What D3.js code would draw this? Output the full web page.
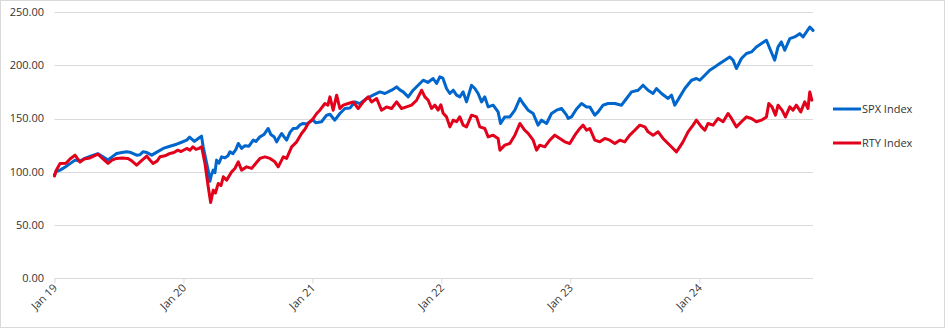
<!DOCTYPE html>
<html>
<head>
<meta charset="utf-8">
<script src="https://cdn.jsdelivr.net/npm/d3@7"></script>
<style>
html,body{margin:0;padding:0;background:#fff;}
svg{display:block;font-family:"Open Sans","Liberation Sans",sans-serif;}
</style>
</head>
<body>
<svg id="chart" width="945" height="328"></svg>
<script>
// years since Jan 2019
const spxTime = [0.000,0.012,0.043,0.089,0.159,0.198,0.244,0.291,0.337,0.376,0.415,0.446,0.482,0.523,0.560,0.593,0.637,0.663,0.686,0.717,0.754,0.787,0.843,0.895,0.947,0.981,1.025,1.047,1.085,1.112,1.140,1.153,1.180,1.194,1.205,1.217,1.231,1.244,1.257,1.275,1.296,1.322,1.345,1.360,1.384,1.407,1.425,1.451,1.477,1.508,1.541,1.562,1.593,1.624,1.657,1.678,1.702,1.723,1.740,1.761,1.779,1.800,1.826,1.851,1.880,1.903,1.929,1.957,1.981,2.006,2.027,2.071,2.110,2.136,2.174,2.213,2.252,2.291,2.330,2.368,2.420,2.471,2.523,2.562,2.614,2.653,2.678,2.704,2.743,2.781,2.820,2.859,2.895,2.936,2.963,2.988,3.012,3.040,3.066,3.092,3.118,3.143,3.169,3.195,3.234,3.260,3.285,3.312,3.337,3.363,3.402,3.440,3.459,3.492,3.531,3.570,3.609,3.634,3.673,3.712,3.750,3.777,3.816,3.854,3.893,3.932,3.971,3.983,4.009,4.048,4.087,4.126,4.151,4.190,4.216,4.254,4.293,4.345,4.397,4.436,4.475,4.526,4.564,4.603,4.642,4.668,4.707,4.758,4.785,4.810,4.849,4.888,4.940,4.978,5.004,5.043,5.081,5.120,5.159,5.198,5.236,5.262,5.288,5.327,5.366,5.405,5.443,5.482,5.521,5.547,5.585,5.611,5.637,5.663,5.702,5.740,5.779,5.805,5.831,5.857,5.882];
const spxValues = [97,100,101.5,105,110.9,110,113,115,117,114,111,114,117.2,118,118.7,118,115.6,116,118.7,118,115.6,118,121.9,124,125.9,127.5,129.7,132.5,128.5,131,133.5,123.4,107.8,100,91,97,101.5,99,110.9,108,114,113,115,118.7,117,121,126.6,121.9,124.5,124,129.7,128.5,132.8,135,140.7,135,133,128.1,132,136,133,129.7,137,140.7,141,144,145.4,145,147,148.5,146,147,153.2,154,148.5,154.8,159.5,160,165.7,164,168.9,172,175.1,173.6,176.7,179.8,177,175.1,170.4,176.7,181.4,186.1,184,187.7,183,189.2,188,178.3,173.6,176.7,172,170.4,175.1,165.7,181.4,178.3,173.6,165.7,170.4,161,162.6,156.3,145.4,151.6,151.6,157.9,168.9,164.2,157.9,154.8,143.8,148.5,145.4,154.8,157.9,159.5,153.2,150.1,151.6,159,164.2,161,161,153.2,156.3,162.6,164.2,164.2,162.6,168.9,175.1,176.7,181.4,176.7,173.6,178.3,173.6,168.9,172,162.6,170.4,178.3,186.1,187.7,186.1,190.8,195.5,198.6,201.8,204.9,208,205,197.1,206.5,211.2,212.7,217.4,220.6,223.7,215.9,204.9,217.4,222.1,214.3,225.2,226.8,229.9,226.8,231.5,236.2,233];

const rtyTime = [0.000,0.012,0.043,0.089,0.120,0.159,0.198,0.229,0.275,0.337,0.376,0.415,0.446,0.482,0.523,0.570,0.601,0.637,0.671,0.715,0.740,0.764,0.795,0.818,0.857,0.895,0.926,0.957,0.981,1.025,1.050,1.074,1.097,1.120,1.141,1.167,1.192,1.211,1.231,1.248,1.270,1.291,1.309,1.335,1.374,1.399,1.425,1.451,1.490,1.529,1.562,1.593,1.632,1.671,1.709,1.735,1.774,1.800,1.839,1.878,1.916,1.942,1.967,2.006,2.033,2.058,2.097,2.120,2.136,2.161,2.188,2.213,2.239,2.278,2.316,2.355,2.394,2.433,2.459,2.498,2.536,2.575,2.614,2.653,2.691,2.730,2.769,2.808,2.847,2.872,2.898,2.924,2.950,2.975,2.996,3.014,3.040,3.066,3.092,3.118,3.143,3.169,3.195,3.234,3.273,3.298,3.337,3.363,3.402,3.440,3.454,3.492,3.531,3.570,3.609,3.647,3.673,3.712,3.738,3.763,3.802,3.841,3.880,3.919,3.957,3.996,4.035,4.074,4.099,4.126,4.151,4.190,4.229,4.268,4.306,4.345,4.384,4.422,4.461,4.500,4.539,4.578,4.603,4.642,4.681,4.719,4.758,4.797,4.823,4.849,4.874,4.913,4.952,4.978,5.017,5.043,5.068,5.107,5.146,5.185,5.223,5.250,5.288,5.327,5.366,5.405,5.443,5.482,5.521,5.539,5.564,5.591,5.611,5.642,5.668,5.702,5.727,5.753,5.787,5.818,5.843,5.857,5.873];
const rtyValues = [96,101,107.8,108,112,115.6,109,112,113,116.5,112,107.8,111,112.5,113,112.5,110,106.2,110,114.7,111,107.8,110,114,115,117.2,118,120.3,119,121.9,120.3,123.5,121,122,123.4,107.8,85.8,71,82.7,80,89,87,95.2,92.1,99.9,103,109.3,101.5,104.6,103.1,108,112.5,114,112.5,109.3,104.6,114,112.5,123.4,128.1,136,140,145.4,150,154.8,157.9,164.2,162.6,170.4,157.9,172,159.5,162.6,164.2,165.7,159.5,165.7,170.4,165.7,168.9,157.9,161,159.5,165.7,159.5,161,162.6,167.3,176.7,170.4,167.3,159.5,162.6,158,163,155,151.6,142.2,148.5,147,151.6,143.8,142.2,153.2,151.6,142.2,140.7,132.8,134.4,131.3,120.3,125,126.6,134.4,145.4,139,136,129.7,120.3,125,123.4,129.7,134.4,131.3,128.1,126.6,134.4,140.7,143.8,139,140.7,129.7,128.1,131.3,129.7,126.6,129.7,128.1,134.4,139,143.8,142.2,137.5,134.4,137.5,131.3,126.6,121.9,118.7,123.4,128.1,137.5,143.8,148.5,142.2,139,145.4,143.8,150.1,147,154.8,150.1,142.2,147,151.6,150.1,147,148.5,151.6,164.2,161,153.2,162.6,157.9,151.6,161,157.9,162.6,156.3,165.7,159.5,175.1,167.3];

const yTicks = [0,50,100,150,200,250];
const xTickYears = [0,1,2,3,4,5];
const xTickLabels = ["Jan 19","Jan 20","Jan 21","Jan 22","Jan 23","Jan 24"];
const seriesNames = ["SPX Index","RTY Index"];
const seriesColors = ["#0066CC","#E2001A"];

const svg = d3.select("#chart");
const W = 945, H = 328;
const plot = {left:54.5, right:813, top:12.3, bottom:278};

svg.append("rect").attr("x",0.5).attr("y",0.5).attr("width",W-1).attr("height",H-1)
  .attr("fill","#fff").attr("stroke","#d9d9d9");

const x = d3.scaleLinear().domain([0, d3.max(spxTime)]).range([plot.left, plot.right]);
const y = d3.scaleLinear().domain([0, 250]).range([plot.bottom, plot.top]);

// gridlines
svg.append("g").selectAll("line").data(yTicks.filter(d=>d>0)).join("line")
  .attr("x1",plot.left).attr("x2",plot.right)
  .attr("y1",d=>Math.round(y(d))+0.5).attr("y2",d=>Math.round(y(d))+0.5)
  .attr("stroke","#d9d9d9").attr("stroke-width",1);

// y labels
svg.append("g").selectAll("text").data(yTicks).join("text")
  .attr("x",44).attr("y",d=>y(d)).attr("dy","0.35em")
  .attr("text-anchor","end").attr("font-size","11px").attr("fill","#333")
  .text(d=>d3.format(".2f")(d));

// x axis
const xAxis = d3.axisBottom(x).tickValues(xTickYears).tickSize(5).tickFormat((d,i)=>xTickLabels[i]);
const gx = svg.append("g").attr("transform",`translate(0,${Math.round(plot.bottom)+0.5})`).call(xAxis);
gx.select(".domain").attr("stroke","#d9d9d9").attr("d",`M${plot.left},0H${plot.right}`);
gx.selectAll(".tick line").attr("stroke","#d9d9d9");
gx.selectAll(".tick text")
  .attr("font-family","'Open Sans','Liberation Sans',sans-serif")
  .attr("font-size","11px").attr("fill","#333")
  .attr("text-anchor","end").attr("dy",null).attr("y",0)
  .attr("transform","translate(3,10) rotate(-45)");

// lines
const line = d3.line().x(d=>x(d[0])).y(d=>y(d[1])).curve(d3.curveLinear);
const series = [
  {name:seriesNames[0], color:seriesColors[0], pts:d3.zip(spxTime, spxValues)},
  {name:seriesNames[1], color:seriesColors[1], pts:d3.zip(rtyTime, rtyValues)}
];
svg.append("g").selectAll("path").data(series).join("path")
  .attr("d",d=>line(d.pts)).attr("fill","none")
  .attr("stroke",d=>d.color).attr("stroke-width",3)
  .attr("stroke-linejoin","round").attr("stroke-linecap","round");

// legend
const lg = svg.append("g").selectAll("g").data(series).join("g")
  .attr("transform",(d,i)=>`translate(833,${109 + i*34})`);
lg.append("line").attr("x1",0).attr("x2",28).attr("y1",0).attr("y2",0)
  .attr("stroke",d=>d.color).attr("stroke-width",3);
lg.append("text").attr("x",29).attr("y",0).attr("dy","0.35em")
  .attr("font-size","11px").attr("fill","#333").text(d=>d.name);
</script>
</body>
</html>
